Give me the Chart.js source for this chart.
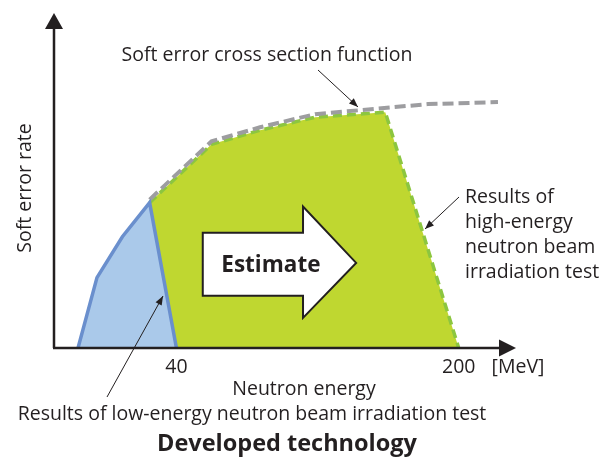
<!DOCTYPE html>
<html>
<head>
<meta charset="utf-8">
<script src="https://cdn.jsdelivr.net/npm/chart.js@4.4.0/dist/chart.umd.min.js"></script>
<style>
body { margin: 0; background: #fff; }
</style>
</head>
<body>
<canvas id="myChart" width="606" height="461"></canvas>
<script>
// schematic units: energy 0..100 along x, rate 0..100 along y
const lowEnergyX = [5.2, 9.3, 14.8, 20.7, 26.5]
const lowEnergyY = [0, 21, 33.2, 43.4, 0]
const highEnergyX = [20.7, 34.1, 44.6, 56.5, 71.7, 87.6]
const highEnergyY = [43.4, 60.8, 65, 68.9, 70.4, 0]
const crossX = [20.7, 34.1, 44.6, 56.5, 66.3, 80.9, 96.1]
const crossY = [44.3, 61.7, 65.9, 69.8, 71.0, 72.8, 73.4]
const tickPos = [26.5, 87.6]
const tickLabels = ['40', '200']

const pts = (xs, ys) => xs.map((x, i) => ({ x: x, y: ys[i] }))

const ink = '#231f20'
const font = '"Open Sans", "DejaVu Sans", sans-serif'

const arrowHead = (ctx, x1, y1, x2, y2, len, half) => {
    const a = Math.atan2(y2 - y1, x2 - x1)
    ctx.beginPath()
    ctx.moveTo(x2, y2)
    ctx.lineTo(x2 - len * Math.cos(a) + half * Math.sin(a), y2 - len * Math.sin(a) - half * Math.cos(a))
    ctx.lineTo(x2 - len * Math.cos(a) - half * Math.sin(a), y2 - len * Math.sin(a) + half * Math.cos(a))
    ctx.closePath()
    ctx.fill()
}

const leader = (ctx, x1, y1, x2, y2) => {
    ctx.lineWidth = 1
    ctx.beginPath()
    ctx.moveTo(x1, y1)
    ctx.lineTo(x2, y2)
    ctx.stroke()
    arrowHead(ctx, x1, y1, x2, y2, 9, 3.5)
}

const text = (ctx, str, x, y, size, bold, align) => {
    ctx.font = (bold ? 'bold ' : '') + size + 'px ' + font
    ctx.textAlign = align || 'center'
    ctx.textBaseline = 'middle'
    ctx.fillText(str, x, y)
}

const decorations = {
    id: 'decorations',
    afterDatasetsDraw(chart) {
        const ctx = chart.ctx
        const sx = chart.scales.x
        const sy = chart.scales.y
        const x0 = sx.getPixelForValue(0)
        const y0 = sy.getPixelForValue(0)
        const xEnd = sx.getPixelForValue(100)
        const yEnd = sy.getPixelForValue(100)

        ctx.save()
        ctx.strokeStyle = ink
        ctx.fillStyle = ink

        // axes with arrow heads
        ctx.lineWidth = 2.5
        ctx.beginPath()
        ctx.moveTo(x0, y0)
        ctx.lineTo(x0, yEnd + 12)
        ctx.moveTo(x0 - 1, y0)
        ctx.lineTo(xEnd - 12, y0)
        ctx.stroke()
        arrowHead(ctx, x0, y0, x0, yEnd, 16, 9)
        arrowHead(ctx, x0, y0, xEnd, y0, 17, 8.5)

        // "Estimate" block arrow
        const L = sx.getPixelForValue(32.2), M = sx.getPixelForValue(53.9), T = sx.getPixelForValue(65.4)
        const bt = sy.getPixelForValue(34.4), bb = sy.getPixelForValue(15.6)
        const ht = sy.getPixelForValue(42.2), hb = sy.getPixelForValue(9.0), tm = sy.getPixelForValue(25.4)
        ctx.beginPath()
        ctx.moveTo(L, bt)
        ctx.lineTo(M, bt)
        ctx.lineTo(M, ht)
        ctx.lineTo(T, tm)
        ctx.lineTo(M, hb)
        ctx.lineTo(M, bb)
        ctx.lineTo(L, bb)
        ctx.closePath()
        ctx.fillStyle = '#fff'
        ctx.fill()
        ctx.lineWidth = 2
        ctx.lineJoin = 'miter'
        ctx.stroke()
        ctx.fillStyle = ink
        text(ctx, 'Estimate', (L + M) / 2 + 18, (bt + bb) / 2 + 1, 22.5, true)

        // tick labels
        tickPos.forEach((v, i) => text(ctx, tickLabels[i], sx.getPixelForValue(v), 367, 19.5))
        text(ctx, '[MeV]', 518, 367, 19.5)

        // titles and notes
        text(ctx, 'Neutron energy', 304, 389, 19.5)
        text(ctx, 'Results of low-energy neutron beam irradiation test', 252, 414, 19.5)
        text(ctx, 'Developed technology', 287, 444, 23.5, true)
        text(ctx, 'Soft error cross section function', 267, 55, 19.5)
        const right = ['Results of', 'high-energy', 'neutron beam', 'irradiation test']
        right.forEach((s, i) => text(ctx, s, 465, 197 + i * 25, 19.5, false, 'left'))

        ctx.save()
        ctx.translate(25, 188)
        ctx.rotate(-Math.PI / 2)
        text(ctx, 'Soft error rate', 0, 0, 19.5)
        ctx.restore()

        // leader lines
        leader(ctx, 318, 70, 358, 107)
        leader(ctx, 107, 397, 163, 296)
        leader(ctx, 459, 197, 425, 229)

        ctx.restore()
    }
}

const data = {
    datasets: [
        {
            label: 'low-energy test',
            data: pts(lowEnergyX, lowEnergyY),
            fill: 'origin',
            backgroundColor: '#aac9ea',
            borderColor: '#6a8fcd',
            borderWidth: 3.5,
            order: 1
        },
        {
            label: 'cross section',
            data: pts(crossX, crossY),
            fill: false,
            borderColor: '#9d9da0',
            borderWidth: 4,
            borderDash: [11, 5],
            order: 2
        },
        {
            label: 'high-energy edge',
            data: pts(highEnergyX, highEnergyY),
            fill: false,
            borderColor: '#8cc63f',
            borderWidth: 3.5,
            borderDash: [9, 5],
            order: 3
        },
        {
            label: 'high-energy test',
            data: pts(highEnergyX, highEnergyY),
            fill: 'origin',
            backgroundColor: '#bfd730',
            borderWidth: 0,
            order: 4
        }
    ]
}

const config = {
    type: 'line',
    data: data,
    options: {
        responsive: false,
        animation: false,
        layout: { padding: { left: 54, right: 90, top: 13, bottom: 113 } },
        elements: {
            point: { radius: 0 },
            line: { tension: 0 }
        },
        scales: {
            x: { type: 'linear', min: 0, max: 100, display: false },
            y: { type: 'linear', min: 0, max: 100, display: false }
        },
        plugins: {
            legend: { display: false },
            tooltip: { enabled: false }
        }
    },
    plugins: [decorations]
}

const myChart = new Chart(document.getElementById('myChart'), config)
</script>
</body>
</html>
